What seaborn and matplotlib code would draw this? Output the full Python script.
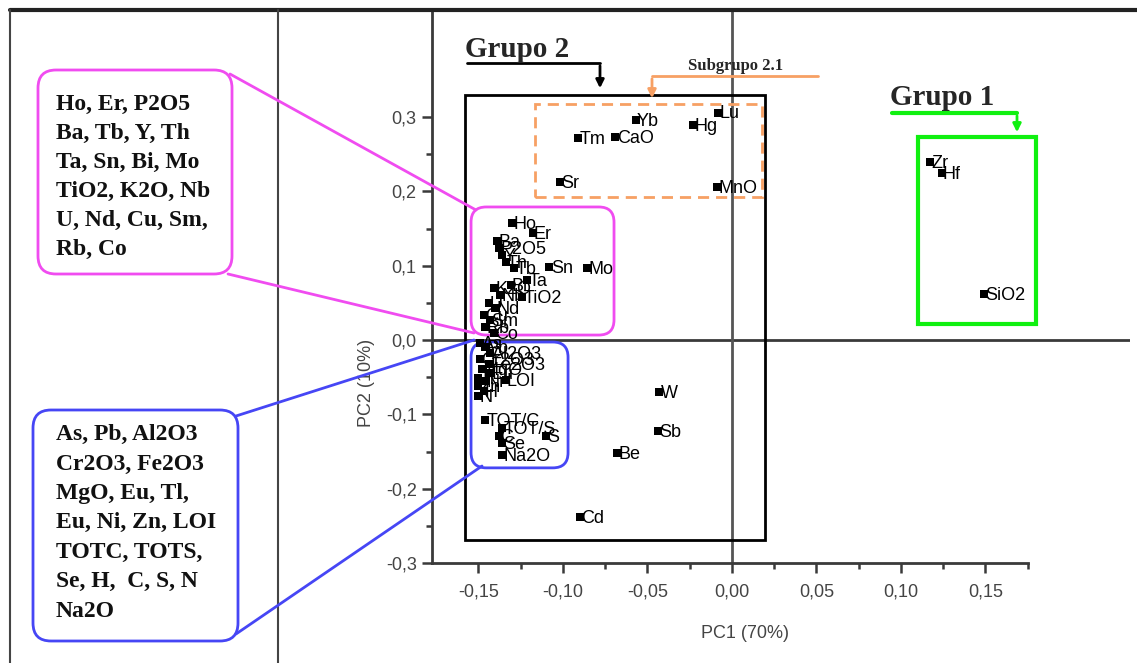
import matplotlib
matplotlib.use("Agg")
import matplotlib.pyplot as plt
import matplotlib.ticker as mticker
from matplotlib.patches import FancyBboxPatch, Rectangle, FancyArrowPatch
from matplotlib.lines import Line2D
from matplotlib.transforms import IdentityTransform
import seaborn as sns
import pandas as pd

# PCA loadings
elements = ["Yb", "Lu", "Hg", "Tm", "CaO", "Sr", "MnO",
            "Zr", "Hf", "SiO2",
            "W", "Sb", "Be", "Cd",
            "Ho", "Er", "P2O5", "Ba", "Y", "Th", "Tb", "Ta", "Sn", "Mo",
            "Bi", "TiO2", "K2O", "Nb", "U", "Nd", "Cu", "Sm", "Rb", "Co",
            "As", "Pb", "Al2O3", "Cr2O3", "Fe2O3", "MgO", "Eu", "Tl", "Ni", "Zn",
            "LOI", "H", "N", "TOT/C", "TOT/S", "C", "S", "Se", "Na2O"]
pc1 = [-0.057, -0.008, -0.023, -0.091, -0.069, -0.102, -0.009,
       0.117, 0.124, 0.149,
       -0.043, -0.044, -0.068, -0.090,
       -0.130, -0.118, -0.138, -0.139, -0.136, -0.134, -0.129, -0.121, -0.108, -0.086,
       -0.131, -0.124, -0.141, -0.137, -0.144, -0.140, -0.147, -0.143, -0.146, -0.141,
       -0.149, -0.146, -0.143, -0.149, -0.144, -0.148, -0.143, -0.150, -0.146, -0.150,
       -0.134, -0.147, -0.150, -0.146, -0.136, -0.138, -0.110, -0.136, -0.136]
pc2 = [0.296, 0.306, 0.289, 0.272, 0.273, 0.213, 0.206,
       0.240, 0.225, 0.062,
       -0.070, -0.122, -0.152, -0.238,
       0.157, 0.144, 0.124, 0.133, 0.114, 0.105, 0.097, 0.081, 0.098, 0.097,
       0.074, 0.058, 0.070, 0.061, 0.050, 0.043, 0.034, 0.027, 0.018, 0.009,
       -0.004, -0.009, -0.017, -0.026, -0.032, -0.039, -0.044, -0.051, -0.055, -0.062,
       -0.054, -0.069, -0.075, -0.108, -0.118, -0.129, -0.129, -0.139, -0.155]

pink_group = ["Ho, Er, P2O5", "Ba, Tb, Y, Th", "Ta, Sn, Bi, Mo", "TiO2, K2O, Nb",
              "U, Nd, Cu, Sm,", "Rb, Co"]
blue_group = ["As, Pb, Al2O3", "Cr2O3, Fe2O3", "MgO, Eu, Tl,", "Eu, Ni, Zn, LOI",
              "TOTC, TOTS,", "Se, H,  C, S, N", "Na2O"]

df = pd.DataFrame({"el": elements, "PC1": pc1, "PC2": pc2})

W, H = 1137, 663
def fx(x): return x / W
def fy(y): return 1 - y / H

sns.set_style("white")
plt.rcParams['font.family'] = ['Liberation Sans', 'DejaVu Sans']

fig = plt.figure(figsize=(W / 100, H / 100), dpi=100)
ax = fig.add_axes([fx(432), fy(563), (1130 - 432) / W, (563 - 10) / H])

PINK = "#F04CF0"
BLUE = "#4646F5"
GREEN = "#10F010"
ORANGE = "#F7A064"
AXC = "#3a3a3a"

# zero lines
ax.axhline(0, color=AXC, lw=2, zorder=1)
ax.axvline(0, color="#555555", lw=2, zorder=1)

sns.scatterplot(data=df, x="PC1", y="PC2", marker="s", color="black", s=26,
                linewidth=0, ax=ax, legend=False, zorder=4)
for _, r in df.iterrows():
    ax.annotate(r["el"], (r["PC1"], r["PC2"]), xytext=(1, -1), textcoords="offset points",
                ha="left", va="center", fontsize=13, color="black", zorder=5)

ax.set_xlim(-0.1775, 0.2355)
ax.set_ylim(-0.3, 0.444)

for s in ["top", "right"]:
    ax.spines[s].set_visible(False)
ax.spines["left"].set_color(AXC)
ax.spines["bottom"].set_color(AXC)
ax.spines["left"].set_linewidth(2)
ax.spines["bottom"].set_linewidth(2)
ax.spines["bottom"].set_bounds(-0.1775, 0.175)

ax.xaxis.set_major_locator(mticker.FixedLocator([-0.15, -0.10, -0.05, 0.0, 0.05, 0.10, 0.15]))
ax.xaxis.set_minor_locator(mticker.FixedLocator([-0.125, -0.075, -0.025, 0.025, 0.075, 0.125, 0.175]))
ax.yaxis.set_major_locator(mticker.FixedLocator([-0.3, -0.2, -0.1, 0.0, 0.1, 0.2, 0.3]))
ax.yaxis.set_minor_locator(mticker.FixedLocator([-0.25, -0.15, -0.05, 0.05, 0.15, 0.25]))

def comma(nd):
    def f(v, p):
        if abs(v) < 1e-9:
            v = 0.0
        return f"{v:.{nd}f}".replace(".", ",")
    return mticker.FuncFormatter(f)

ax.xaxis.set_major_formatter(comma(2))
ax.yaxis.set_major_formatter(comma(1))
ax.tick_params(which="major", length=7, width=1.8, color=AXC, labelsize=13,
               labelcolor="#444444", direction="out")
ax.tick_params(which="minor", length=4, width=1.8, color=AXC, direction="out")
ax.tick_params(axis="x", which="both", bottom=True, pad=8)
ax.tick_params(axis="y", which="both", left=True, pad=4)

ax.set_xlabel("PC1 (70%)", fontsize=13, color="#444444")
ax.set_ylabel("PC2 (10%)", fontsize=13, color="#444444")
ax.xaxis.set_label_coords(0.448, -0.112)
ax.yaxis.set_label_coords(-0.082, 0.3255)

# group boxes in data space
ax.add_patch(Rectangle((-0.158, -0.269), 0.1775, 0.599, fill=False, ec="black", lw=2, zorder=3))
ax.add_patch(Rectangle((-0.1166, 0.1925), 0.1344, 0.125, fill=False, ec=ORANGE, lw=2,
                       ls=(0, (4, 2.5)), zorder=3))
ax.add_patch(Rectangle((0.110, 0.0215), 0.070, 0.2515, fill=False, ec=GREEN, lw=3, zorder=3))
asp = 1690 / 743
ax.add_patch(FancyBboxPatch((-0.1544, 0.0067), 0.0846, 0.1723,
                            boxstyle="round,pad=0,rounding_size=0.009", mutation_aspect=asp,
                            fill=False, ec=PINK, lw=2, zorder=3))
ax.add_patch(FancyBboxPatch((-0.1544, -0.172), 0.0574, 0.1693,
                            boxstyle="round,pad=0,rounding_size=0.009", mutation_aspect=asp,
                            fill=False, ec=BLUE, lw=2, zorder=3))

# page frame
fig.add_artist(Line2D([fx(10), fx(1137)], [fy(10), fy(10)], color="#222222", lw=3))
fig.add_artist(Line2D([fx(10), fx(10)], [fy(10), fy(663)], color="#444444", lw=1.5))
fig.add_artist(Line2D([fx(278), fx(278)], [fy(10), fy(663)], color="#444444", lw=1.5))

# legend boxes on the left
def rbox(x0, y0, x1, y1, col):
    p = FancyBboxPatch((x0, H - y1), x1 - x0, y1 - y0,
                       boxstyle="round,pad=0,rounding_size=18",
                       transform=IdentityTransform(), fill=False, ec=col, lw=2)
    fig.add_artist(p)

rbox(38, 70, 232, 274, PINK)
rbox(33, 410, 238, 641, BLUE)

fig.text(fx(56), fy(94), "\n".join(pink_group), ha="left", va="top", fontsize=17,
         fontweight="bold", family="Liberation Serif", linespacing=1.5, color="#111111")
fig.text(fx(56), fy(424), "\n".join(blue_group), ha="left", va="top", fontsize=17,
         fontweight="bold", family="Liberation Serif", linespacing=1.53, color="#111111")

def seg(p, q, col, lw=2):
    fig.add_artist(Line2D([fx(p[0]), fx(q[0])], [fy(p[1]), fy(q[1])], color=col, lw=lw))

seg((230, 74), (476, 210), PINK)
seg((228, 274), (474, 333), PINK)
seg((236, 416), (474, 340), BLUE)
seg((236, 634), (482, 466), BLUE)

# group titles with arrows
def arrow(p, q, col):
    fig.add_artist(FancyArrowPatch((fx(p[0]), fy(p[1])), (fx(q[0]), fy(q[1])),
                                   transform=fig.transFigure, arrowstyle="-|>",
                                   mutation_scale=12, color=col, lw=2))

fig.text(fx(465), fy(57), "Grupo 2", fontsize=21, fontweight="bold",
         family="Liberation Serif", ha="left", va="baseline")
seg((467, 63), (600, 63), "black")
arrow((600, 63), (600, 91), "black")

fig.text(fx(688), fy(70), "Subgrupo 2.1", fontsize=12, fontweight="bold",
         family="Liberation Serif", ha="left", va="baseline")
seg((652, 76), (818, 76), ORANGE)
arrow((652, 76), (652, 101), ORANGE)

fig.text(fx(890), fy(105), "Grupo 1", fontsize=21, fontweight="bold",
         family="Liberation Serif", ha="left", va="baseline")
seg((892, 113), (1017, 113), GREEN, lw=3)
arrow((1017, 113), (1017, 135), GREEN)

fig.savefig("out.png", dpi=100)
